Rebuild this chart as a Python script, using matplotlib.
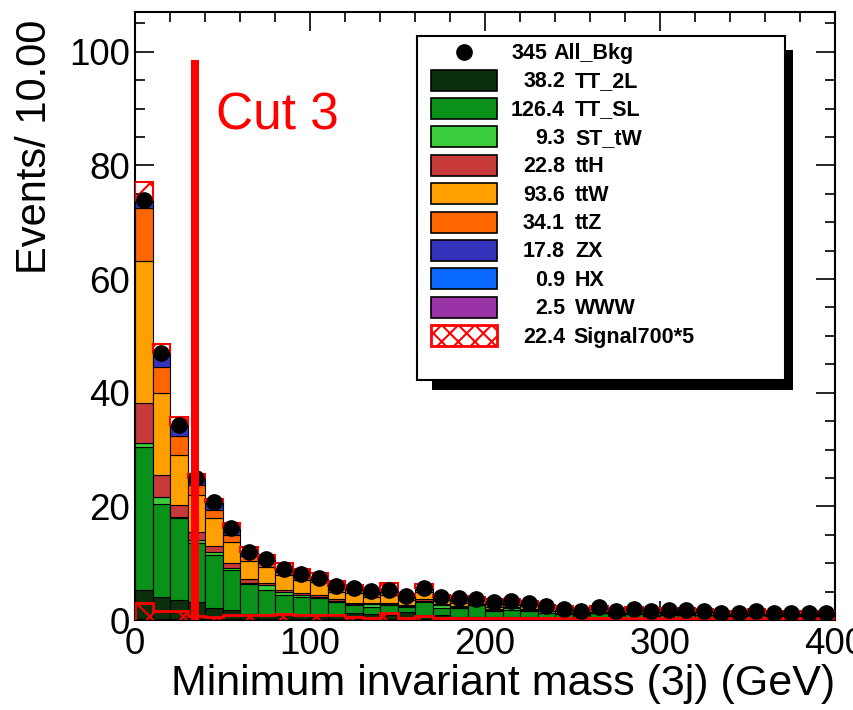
import numpy as np
import matplotlib
matplotlib.use("Agg")
import matplotlib.pyplot as plt
from matplotlib.patches import Rectangle

plt.rcParams['font.family'] = ['Liberation Sans', 'DejaVu Sans']
plt.rcParams['hatch.linewidth'] = 1.5
plt.rcParams['hatch.color'] = 'red'

# ---------------- data (events per 10 GeV bin, 0-400 GeV) ----------------
bin_edges = np.arange(0, 410, 10)

tt_2l = [5.3, 4.1, 3.5, 3.2, 2.1, 1.8, 1.0, 0.9, 1.0, 0.9, 0.9, 0.7, 1.2, 1.0, 0.8, 1.4, 0.9, 0.8, 0.6, 0.5,
         0.6, 0.5, 0.5, 0.4, 0.3, 0.3, 0.3, 0.2, 0.3, 0.2, 0.3, 0.25, 0.2, 0.2, 0.15, 0.25, 0.2, 0.15, 0.2, 0.2]
tt_sl = [25.2, 16.4, 14.4, 10.3, 9.3, 7.0, 5.3, 4.4, 3.4, 3.2, 2.9, 2.5, 1.4, 1.3, 1.8, 0.9, 2.3, 1.3, 1.5, 2.1,
         1.0, 1.3, 1.0, 0.9, 0.8, 0.5, 0.9, 0.6, 0.7, 0.55, 0.65, 0.7, 0.6, 0.45, 0.5, 0.6, 0.5, 0.5, 0.45, 0.45]
st_tw = [0.7, 1.2, 0.3, 0.6, 0.5, 0.3, 0.2, 0.9, 0.6, 0.3, 0.3, 0.2, 0.2, 0.5, 0.2, 0.2, 0.2, 0.5, 0.2, 0.1,
         0.2, 0.3, 0.2, 0.2, 0.1, 0.1, 0.1, 0.1, 0.1, 0.05, 0.1, 0.1, 0.05, 0.05, 0.05, 0.1, 0.05, 0.05, 0.05, 0.05]
tth = [7.0, 3.8, 2.0, 1.3, 1.1, 0.9, 0.7, 0.3, 0.3, 0.4, 0.3, 0.3, 0.2, 0.2, 0.2, 0.2, 0.3, 0.2, 0.2, 0.1,
       0.2, 0.2, 0.2, 0.1, 0.1, 0.1, 0.1, 0.1, 0.1, 0.1, 0.1, 0.1, 0.1, 0.05, 0.05, 0.05, 0.05, 0.05, 0.05, 0.05]
ttw = [24.9, 14.5, 8.8, 6.6, 4.9, 3.8, 3.1, 2.8, 2.6, 2.2, 2.2, 1.3, 1.8, 1.1, 1.4, 0.8, 1.3, 0.7, 0.5, 0.4,
       0.3, 0.4, 0.5, 0.4, 0.3, 0.2, 0.4, 0.3, 0.35, 0.3, 0.3, 0.3, 0.25, 0.2, 0.2, 0.3, 0.25, 0.2, 0.2, 0.2]
ttz = [9.4, 4.6, 3.3, 1.8, 1.5, 1.2, 1.0, 0.7, 0.6, 0.6, 0.4, 0.6, 0.4, 0.5, 0.5, 0.4, 0.3, 0.3, 0.4, 0.3,
       0.5, 0.3, 0.3, 0.2, 0.2, 0.2, 0.2, 0.15, 0.15, 0.15, 0.17, 0.15, 0.15, 0.12, 0.12, 0.15, 0.12, 0.12, 0.12, 0.12]
zx = [1.2, 2.1, 1.8, 1.0, 1.2, 1.0, 0.6, 0.5, 0.4, 0.3, 0.3, 0.3, 0.3, 0.4, 0.3, 0.3, 0.2, 0.2, 0.4, 0.15,
      0.35, 0.25, 0.25, 0.15, 0.15, 0.15, 0.15, 0.12, 0.15, 0.12, 0.15, 0.15, 0.12, 0.1, 0.1, 0.12, 0.1, 0.1, 0.1, 0.1]
hx = [0.1, 0.1, 0.05, 0.05, 0.05, 0.05, 0.05, 0.05, 0.05, 0.05, 0.05, 0.05, 0.05, 0.05, 0.05, 0.05, 0.05, 0.05, 0.05, 0.02,
      0.02, 0.02, 0.02, 0.02, 0.02, 0.02, 0.02, 0.01, 0.02, 0.01, 0.01, 0.02, 0.01, 0.01, 0.01, 0.01, 0.01, 0.01, 0.01, 0.01]
www = [0.2, 0.2, 0.1, 0.1, 0.1, 0.1, 0.1, 0.1, 0.1, 0.1, 0.1, 0.1, 0.05, 0.05, 0.05, 0.05, 0.05, 0.05, 0.05, 0.05,
       0.05, 0.05, 0.05, 0.05, 0.05, 0.03, 0.03, 0.02, 0.03, 0.02, 0.02, 0.03, 0.02, 0.02, 0.02, 0.02, 0.02, 0.02, 0.02, 0.02]
signal700x5 = [3.0, 1.6, 1.5, 0.7, 0.6, 0.9, 0.8, 0.8, 1.0, 0.9, 0.9, 0.9, 0.5, 0.3, 1.2, 0.3, 0.7, 0.3, 0.3, 0.3,
               0.4, 0.3, 0.4, 0.3, 0.4, 0.3, 0.3, 0.4, 0.3, 0.4, 0.3, 0.3, 0.4, 0.3, 0.3, 0.3, 0.3, 0.2, 0.3, 0.3]

bkg_names = ["TT_2L", "TT_SL", "ST_tW", "ttH", "ttW", "ttZ", "ZX", "HX", "WWW"]
bkg_values = [tt_2l, tt_sl, st_tw, tth, ttw, ttz, zx, hx, www]
bkg_colors = ["#0b300b", "#09911a", "#3bcc3b", "#c83a3a", "#ffa000", "#ff6600", "#3333bb", "#0a6aff", "#9933a6"]
legend_yields = ["38.2", "126.4", "9.3", "22.8", "93.6", "34.1", "17.8", "0.9", "2.5"]
signal_yield = "22.4"
total_yield = "345"
cut_x = 34.3
cut_top = 98.5

# ---------------- figure ----------------
W, H = 854, 710
fig = plt.figure(figsize=(W / 100, H / 100), dpi=100)


def frect(x0, y0, x1, y1):
    return [x0 / W, 1 - y1 / H, (x1 - x0) / W, (y1 - y0) / H]


ax = fig.add_axes(frect(135, 12, 835, 620))
ax.set_zorder(0)

centers = 0.5 * (bin_edges[:-1] + bin_edges[1:])
widths = np.diff(bin_edges)
bottom = np.zeros(len(centers))
for vals, col in zip(bkg_values, bkg_colors):
    v = np.asarray(vals)
    ax.bar(centers, v, width=widths, bottom=bottom, color=col, edgecolor='black',
           linewidth=0.8, zorder=2)
    bottom = bottom + v
total = bottom.copy()
sig = np.asarray(signal700x5)

# signal stacked on top
ax.bar(centers, sig, width=widths, bottom=total, facecolor='none', edgecolor='red',
       hatch='x', linewidth=1.5, zorder=3)
# signal alone
ax.bar(centers, sig, width=widths, facecolor='none', edgecolor='red', hatch='x',
       linewidth=0, zorder=3)
ax.stairs(sig, bin_edges, color='red', linewidth=2.0, zorder=3)

# all background points
ax.plot(centers, total, 'o', color='black', markersize=11, zorder=4)

# cut line
ax.plot([cut_x, cut_x], [0, cut_top], color='red', linewidth=5.8, solid_capstyle='butt', zorder=5)
ax.text(46.3, 86.3, "Cut 3", color='red', fontsize=37, ha='left', va='baseline', zorder=6)

ax.set_xlim(0, 400)
ax.set_ylim(0, 107)
ax.set_xticks(np.arange(0, 401, 100))
ax.set_xticks(np.arange(0, 401, 20), minor=True)
ax.set_yticks(np.arange(0, 101, 20))
ax.set_yticks(np.arange(0, 107, 5), minor=True)
ax.tick_params(which='both', direction='in', top=True, right=True, width=1.2, labelsize=26.5)
ax.tick_params(which='major', length=14)
ax.tick_params(which='minor', length=7)
ax.tick_params(axis='x', pad=5)
ax.tick_params(axis='y', pad=3.5)
for sp in ax.spines.values():
    sp.set_linewidth(1.5)

fig.text(835 / W, 1 - 695 / H, "Minimum invariant mass (3j) (GeV)", fontsize=31,
         ha='right', va='baseline')
fig.text(46 / W, 1 - 20 / H, "Events/ 10.00", fontsize=30, rotation=90,
         rotation_mode='anchor', ha='right', va='baseline')

# ---------------- legend (ROOT-style box with shadow) ----------------
shadow = Rectangle((432 / W, 1 - 390 / H), (793 - 432) / W, (390 - 50) / H,
                   transform=fig.transFigure, facecolor='black', edgecolor='none', zorder=1)
fig.patches.append(shadow)

lx0, ly0, lx1, ly1 = 417, 36, 785, 380
lax = fig.add_axes(frect(lx0, ly0, lx1, ly1))
lax.set_zorder(2)
lax.set_xlim(0, lx1 - lx0)
lax.set_ylim(ly1 - ly0, 0)
lax.set_xticks([])
lax.set_yticks([])
lax.set_facecolor('white')
for sp in lax.spines.values():
    sp.set_linewidth(1.5)

row0 = 15.7
dy = 28.4
fs = 15.5
lax.plot([47], [row0], 'o', color='black', markersize=11)
lax.text(130, row0 + 7, total_yield, fontsize=fs, fontweight='bold', ha='right', va='baseline')
lax.text(136, row0 + 7, "All_Bkg", fontsize=fs, fontweight='bold', ha='left', va='baseline')
for i, (name, col, yl) in enumerate(zip(bkg_names, bkg_colors, legend_yields)):
    yc = row0 + dy * (i + 1)
    lax.add_patch(Rectangle((14, yc - 10.5), 66, 21, facecolor=col, edgecolor='black', linewidth=1.2))
    lax.text(148, yc + 7, yl, fontsize=fs, fontweight='bold', ha='right', va='baseline')
    lax.text(158, yc + 7, name, fontsize=fs, fontweight='bold', ha='left', va='baseline')
yc = row0 + dy * 10
lax.add_patch(Rectangle((14, yc - 10.5), 66, 21, facecolor='none', edgecolor='red', hatch='xx', linewidth=2))
lax.text(148, yc + 7, signal_yield, fontsize=fs, fontweight='bold', ha='right', va='baseline')
lax.text(156, yc + 7, "Signal700*5", fontsize=fs, fontweight='bold', ha='left', va='baseline')

fig.savefig("out.png", dpi=100)
